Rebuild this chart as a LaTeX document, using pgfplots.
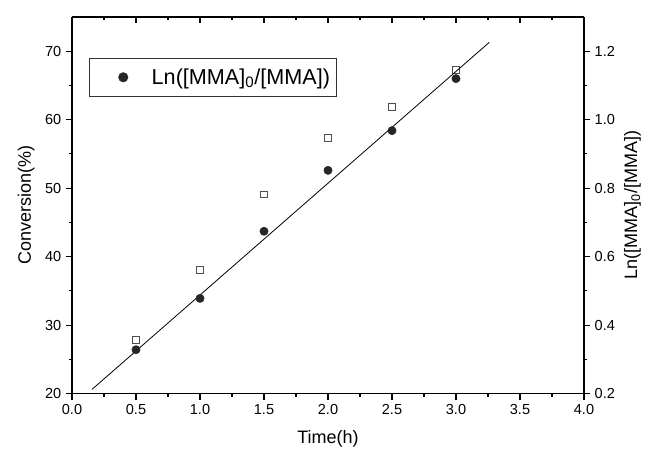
\documentclass[border=0pt]{standalone}
\usepackage{fontspec}
\setmainfont{Liberation Sans}
\usepackage{pgfplots}
\pgfplotsset{compat=1.18}

\pgfplotsset{
  common/.style={
    width=384pt, height=282.4pt, scale only axis,
    xmin=0, xmax=4,
    xtick={0,0.5,...,4}, minor x tick num=1,
    major tick length=4.5pt, minor tick length=2.6pt,
    every tick/.style={black, line width=0.8pt},
    minor tick style={black, line width=0.8pt},
    axis line style={line width=0.9pt},
    tick label style={font=\fontsize{10.9}{13}\selectfont},
    label style={font=\fontsize{13.5}{16}\selectfont},
    /pgf/number format/assume math mode=true,
  },
}

\begin{document}
\begin{tikzpicture}
% left axis: conversion (open squares)
\begin{axis}[common, name=A,
    axis x line*=bottom, axis y line*=left, tick align=outside,
    ymin=20, ymax=75, ytick={20,30,...,70}, minor y tick num=1,
    xticklabel style={/pgf/number format/.cd, fixed, fixed zerofill, precision=1},
    xlabel={Time(h)}, ylabel={Conversion(\%)},
    xlabel style={yshift=-5pt}, ylabel style={yshift=1pt},
]
\addplot[only marks, mark=square, mark size=2.6pt, draw=black!70, line width=0.5pt]
  coordinates {(0.5,27.9) (1.0,38.1) (1.5,49.1) (2.0,57.4) (2.5,61.9) (3.0,67.3)};
\end{axis}
% top axis: inward ticks only
\begin{axis}[common,
    axis x line*=top, hide y axis, tick align=inside,
    xticklabels={}, ymin=0, ymax=1,
]
\end{axis}
% right axis: ln([MMA]0/[MMA]) (filled circles) and fit line
\begin{axis}[common,
    axis y line*=right, hide x axis, tick align=outside,
    ymin=0.2, ymax=1.3, ytick={0.2,0.4,...,1.2}, minor y tick num=1,
    yticklabel style={/pgf/number format/.cd, fixed, fixed zerofill, precision=1},
    ylabel={Ln([MMA]\textsubscript{0}/[MMA])},
    legend style={at={(axis description cs:0,1)}, anchor=north west,
      xshift=12.75pt, yshift=-30.75pt, draw=black!80, line width=0.7pt,
      font=\fontsize{16.2}{18}\selectfont, inner xsep=3pt, inner ysep=5.5pt},
    legend cell align=left,
    legend image code/.code={
      \path (0pt,0pt) (41pt,0pt);
      \fill[black!85] (22pt,0pt) circle (3.4pt);
    },
]
\addplot[only marks, mark=*, mark size=3.1pt, black!85]
  coordinates {(0.5,0.328) (1.0,0.478) (1.5,0.674) (2.0,0.852) (2.5,0.968) (3.0,1.120)};
\addlegendentry{Ln([MMA]\textsubscript{0}/[MMA])}
\addplot[black, line width=0.6pt, forget plot]
  coordinates {(0.156,0.212) (3.26,1.226)};
\end{axis}
\pgfresetboundingbox
\path ([shift={(-54pt,-44pt)}]A.south west) rectangle ([shift={(47.25pt,12.75pt)}]A.north east);
\end{tikzpicture}
\end{document}
